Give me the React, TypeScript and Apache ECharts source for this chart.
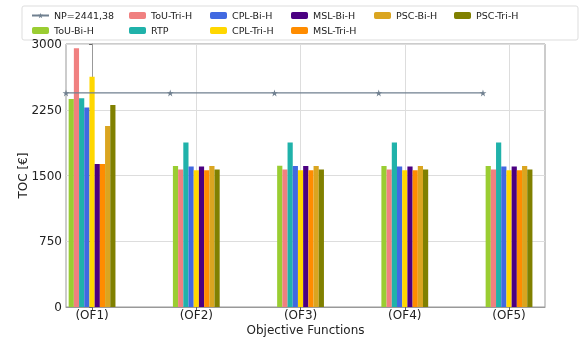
import React, { useEffect, useRef } from "react";
import * as echarts from "echarts";

const categories = ["(OF1)", "(OF2)", "(OF3)", "(OF4)", "(OF5)"];
const npValue = 2441.38;
const npLabel = "NP=2441,38";

const seriesNames = [
  "ToU-Bi-H",
  "ToU-Tri-H",
  "RTP",
  "CPL-Bi-H",
  "CPL-Tri-H",
  "MSL-Bi-H",
  "MSL-Tri-H",
  "PSC-Bi-H",
  "PSC-Tri-H",
];
const seriesColors = [
  "#9ACD32",
  "#F08080",
  "#20B2AA",
  "#4169E1",
  "#FFD700",
  "#4B0082",
  "#FF8C00",
  "#DAA520",
  "#808000",
];

const touBiH = [2372, 1607, 1610, 1607, 1607];
const touTriH = [2951, 1569, 1569, 1569, 1569];
const rtp = [2380, 1877, 1877, 1877, 1877];
const cplBiH = [2277, 1603, 1607, 1603, 1603];
const cplTriH = [2627, 1561, 1561, 1561, 1561];
const mslBiH = [1630, 1603, 1607, 1603, 1603];
const mslTriH = [1630, 1561, 1561, 1561, 1561];
const pscBiH = [2064, 1607, 1607, 1607, 1607];
const pscTriH = [2303, 1569, 1569, 1569, 1569];

const seriesValues = [touBiH, touTriH, rtp, cplBiH, cplTriH, mslBiH, mslTriH, pscBiH, pscTriH];

const yTicks = [0, 750, 1500, 2250, 3000];

const STAR =
  "path://M50,0 L61,35 L98,35 L68,57 L79,91 L50,70 L21,91 L32,57 L2,35 L39,35 Z";

export default function App() {
  const ref = useRef<HTMLDivElement>(null);
  useEffect(() => {
    document.body.style.margin = "0";
    if (!ref.current) return;
    const chart = echarts.init(ref.current, undefined, { renderer: "svg", width: 581, height: 337 });
    const font = "DejaVu Sans";
    const catIdx = categories.map((_, i) => i);

    const barSeries = seriesNames.map((name, k) => ({
      name,
      type: "bar",
      data: seriesValues[k].map((v, i) => [i, v]),
      barWidth: 5.2,
      barGap: "0%",
      itemStyle: { color: seriesColors[k] },
      z: 3,
    }));

    const npSeries = {
      name: npLabel,
      type: "line",
      data: catIdx.map((i) => [i - 0.25, npValue]),
      symbol: STAR,
      symbolSize: 7,
      clip: false,
      lineStyle: { color: "#708090", width: 1.3 },
      itemStyle: { color: "#708090" },
      z: 4,
    };

    const legendCols = [
      [npLabel, "ToU-Bi-H"],
      ["ToU-Tri-H", "RTP"],
      ["CPL-Bi-H", "CPL-Tri-H"],
      ["MSL-Bi-H", "MSL-Tri-H"],
      ["PSC-Bi-H"],
      ["PSC-Tri-H"],
    ];
    const legendLefts = [26, 124, 205, 286, 369, 449];

    chart.setOption({
      animation: false,
      textStyle: { fontFamily: font },
      grid: {
        left: 66,
        right: 36,
        top: 44,
        bottom: 30,
        outerBoundsMode: "none",
        containLabel: false,
        show: true,
        borderColor: "#999",
        borderWidth: 1,
      },
      legend: legendCols.map((col, c) => ({
        data: col,
        orient: "vertical",
        left: legendLefts[c],
        top: 4,
        itemWidth: 17,
        itemHeight: 7,
        itemGap: 2,
        textStyle: { fontFamily: font, fontSize: 9.5, color: "#222", lineHeight: 13 },
      })),
      graphic: [
        {
          type: "rect",
          shape: { x: 22, y: 6, width: 556, height: 34, r: 2 },
          style: { fill: "rgba(255,255,255,0.8)", stroke: "#ddd", lineWidth: 1 },
          z: -1,
        },
      ],
      xAxis: {
        type: "value",
        min: -0.25,
        max: 4.345,
        name: "Objective Functions",
        nameLocation: "middle",
        nameGap: 16.5,
        nameMoveOverlap: false,
        nameTextStyle: { fontFamily: font, fontSize: 12, color: "#222" },
        axisLine: { show: true, lineStyle: { color: "#999" } },
        axisTick: { show: true, customValues: catIdx, length: 3, lineStyle: { color: "#666" } },
        axisLabel: {
          customValues: catIdx,
          formatter: (v: number) => categories[Math.round(v)] ?? "",
          fontFamily: font,
          fontSize: 12,
          color: "#222",
          margin: 2,
        },
        splitLine: { show: true, lineStyle: { color: "#ddd", width: 1 } },
      },
      yAxis: {
        type: "value",
        min: 0,
        max: 3000,
        interval: 750,
        name: "TOC [€]",
        nameLocation: "middle",
        nameGap: 37,
        nameMoveOverlap: false,
        nameTextStyle: { fontFamily: font, fontSize: 12, color: "#222" },
        axisLine: { show: true, lineStyle: { color: "#999" } },
        axisTick: { show: true, length: 3, lineStyle: { color: "#666" } },
        axisLabel: {
          fontFamily: font,
          fontSize: 12,
          color: "#222",
          margin: 4,
          formatter: (v: number) => (yTicks.includes(v) ? String(v) : ""),
        },
        splitLine: { show: true, lineStyle: { color: "#ddd", width: 1 } },
      },
      series: [npSeries, ...barSeries],
    });
    return () => chart.dispose();
  }, []);
  return (
    <div
      ref={ref}
      style={{ position: "fixed", left: 0, top: 0, width: 581, height: 337 }}
    />
  );
}
